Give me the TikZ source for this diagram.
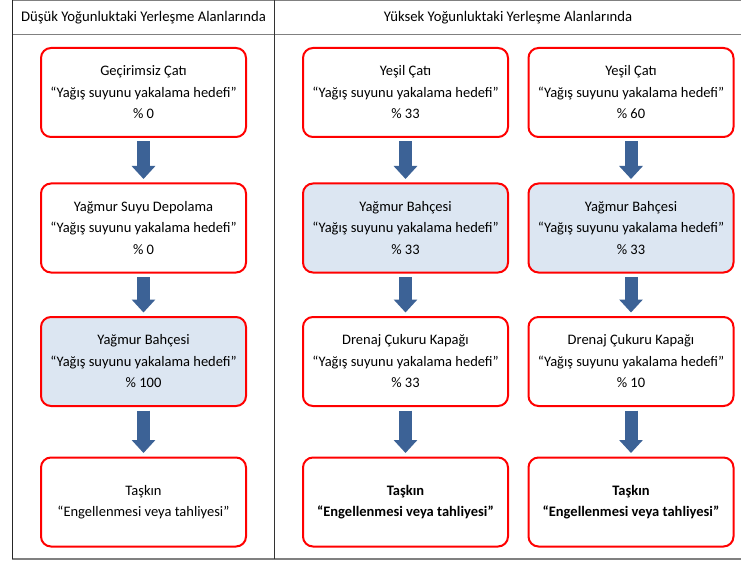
\documentclass[tikz,border=0pt]{standalone}
\usepackage{fontspec}
\setmainfont{Carlito}
\usetikzlibrary{arrows.meta}
\definecolor{boxred}{RGB}{255,0,0}
\definecolor{boxfill}{RGB}{220,230,242}
\definecolor{arrowblue}{RGB}{60,98,150}
\definecolor{framegray}{RGB}{128,128,128}
\begin{document}
\begin{tikzpicture}[x=1pt,y=-1pt,
  card/.style={draw=boxred, line width=2pt, rounded corners=10pt, fill=white,
    minimum width=205pt, minimum height=89pt, align=center,
    font=\fontsize{14.5}{21.5}\selectfont, outer sep=0pt, inner sep=0pt},
  shaded/.style={card, fill=boxfill},
  boldcard/.style={card, font=\fontsize{14.5}{21.5}\selectfont\bfseries},
  flow/.style={draw=arrowblue, line width=13pt, -{Triangle[width=23pt,length=13pt]},
    shorten <=4.5pt, shorten >=4.5pt},
  hdr/.style={font=\fontsize{14.7}{16}\selectfont, inner sep=0pt}
]
\useasboundingbox[fill=white] (0,0) rectangle (741,561);

% frame
\draw[framegray, line width=1.2pt] (12,0.8) -- (741,0.8);
\draw[framegray, line width=1.5pt] (12,34.5) -- (741,34.5);
\draw[framegray, line width=2pt] (12,559) -- (741,559);
\draw[black!85, line width=1pt] (12,0) -- (12,559);
\draw[black!80, line width=1pt] (274.5,0) -- (274.5,559);

% headers
\node[hdr] (h1) at (143.5,18) {Düşük Yoğunluktaki Yerleşme Alanlarında};
\node[hdr] (h2) at (508,18) {Yüksek Yoğunluktaki Yerleşme Alanlarında};

% left column
\node[card] (l1) at (143.5,92.5) {Geçirimsiz Çatı\\“Yağış suyunu yakalama hedefi”\\\% 0};
\node[card] (l2) at (143.5,228) {Yağmur Suyu Depolama\\“Yağış suyunu yakalama hedefi”\\\% 0};
\node[shaded] (l3) at (143.5,361.5) {Yağmur Bahçesi\\“Yağış suyunu yakalama hedefi”\\\% 100};
\node[card] (l4) at (143.5,502) {Taşkın\\“Engellenmesi veya tahliyesi”};

% middle column
\node[card] (m1) at (405.5,92.5) {Yeşil Çatı\\“Yağış suyunu yakalama hedefi”\\\% 33};
\node[shaded] (m2) at (405.5,228) {Yağmur Bahçesi\\“Yağış suyunu yakalama hedefi”\\\% 33};
\node[card] (m3) at (405.5,361.5) {Drenaj Çukuru Kapağı\\“Yağış suyunu yakalama hedefi”\\\% 33};
\node[boldcard] (m4) at (405.5,502) {Taşkın\\“Engellenmesi veya tahliyesi”};

% right column
\node[card] (r1) at (631,92.5) {Yeşil Çatı\\“Yağış suyunu yakalama hedefi”\\\% 60};
\node[shaded] (r2) at (631,228) {Yağmur Bahçesi\\“Yağış suyunu yakalama hedefi”\\\% 33};
\node[card] (r3) at (631,361.5) {Drenaj Çukuru Kapağı\\“Yağış suyunu yakalama hedefi”\\\% 10};
\node[boldcard] (r4) at (631,502) {Taşkın\\“Engellenmesi veya tahliyesi”};

% arrows
\foreach \c in {l,m,r}{
  \draw[flow] (\c1.south) -- (\c2.north);
  \draw[flow] (\c2.south) -- (\c3.north);
  \draw[flow] (\c3.south) -- (\c4.north);
}
\end{tikzpicture}
\end{document}
